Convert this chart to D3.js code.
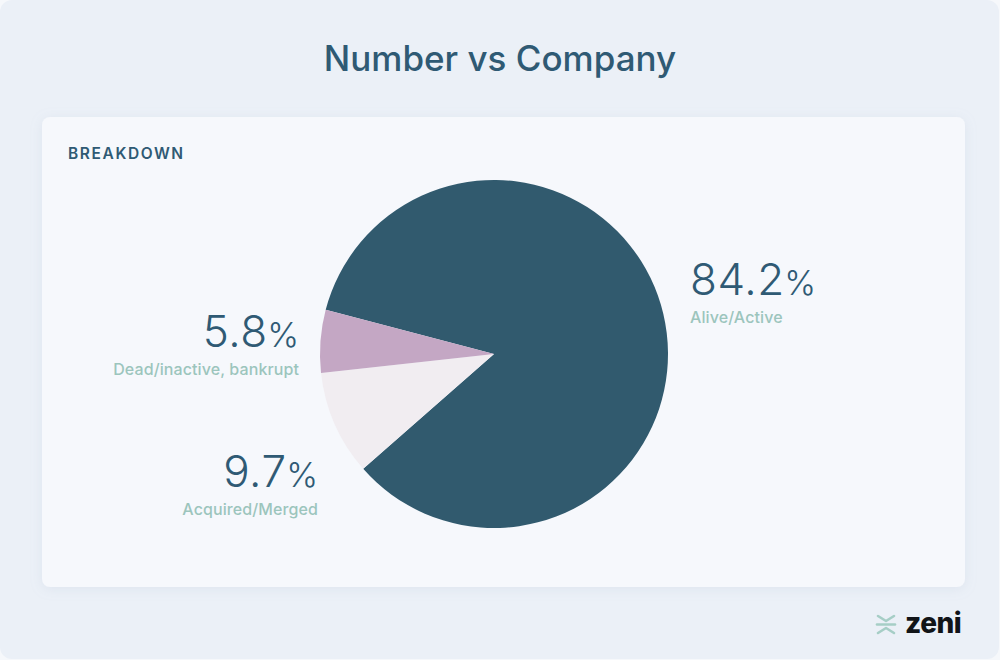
<!DOCTYPE html>
<html>
<head>
<meta charset="utf-8">
<script src="https://cdn.jsdelivr.net/npm/d3@7"></script>
<style>
  html, body { margin: 0; padding: 0; background: #f6f8fb; }
  #chart { width: 1000px; height: 660px; }
</style>
</head>
<body>
<div id="chart"></div>
<script>
// chart values
const categories = ["Alive/Active", "Acquired/Merged", "Dead/inactive, bankrupt"];
const values = [84.2, 9.7, 5.8];
const valueLabels = ["84.2", "9.7", "5.8"];
const sliceColors = ["#315a6e", "#f1edf1", "#c4a7c4"];

document.addEventListener('DOMContentLoaded', function() {

    const width = 1000, height = 660;
    const cx = 494, cy = 354, radius = 174;

    const svg = d3.select("#chart")
        .append("svg")
        .attr("width", width)
        .attr("height", height);

    // soft shadow for the card
    const defs = svg.append("defs");
    const shadow = defs.append("filter")
        .attr("id", "cardShadow")
        .attr("x", "-5%").attr("y", "-5%")
        .attr("width", "110%").attr("height", "115%");
    shadow.append("feDropShadow")
        .attr("dx", 0).attr("dy", 2)
        .attr("stdDeviation", 6)
        .attr("flood-color", "#9fb0c8")
        .attr("flood-opacity", 0.18);

    // page background
    svg.append("rect")
        .attr("x", 0).attr("y", 0)
        .attr("width", width - 1).attr("height", height - 1)
        .attr("rx", 12)
        .attr("fill", "#ebf0f7");

    // title
    svg.append("text")
        .attr("x", 500)
        .attr("y", 71)
        .attr("text-anchor", "middle")
        .attr("font-family", "Inter, 'Noto Sans', sans-serif")
        .attr("font-size", 35)
        .attr("font-weight", 500)
        .attr("fill", "#2f5a74")
        .text("Number vs Company");

    // card
    svg.append("rect")
        .attr("x", 42).attr("y", 117)
        .attr("width", 923).attr("height", 470)
        .attr("rx", 8)
        .attr("fill", "#f6f8fc")
        .attr("filter", "url(#cardShadow)");

    svg.append("text")
        .attr("x", 68)
        .attr("y", 159)
        .attr("font-family", "Inter, 'Noto Sans', sans-serif")
        .attr("font-size", 15.5)
        .attr("font-weight", 600)
        .attr("letter-spacing", 1.6)
        .attr("fill", "#2f5a74")
        .text("BREAKDOWN");

    // pie
    const startAngle = -75.3 * Math.PI / 180;
    const pie = d3.pie()
        .sort(null)
        .value(d => d)
        .startAngle(startAngle)
        .endAngle(startAngle + 2 * Math.PI);

    const arc = d3.arc()
        .innerRadius(0)
        .outerRadius(radius);

    const arcs = pie(values);

    const g = svg.append("g")
        .attr("transform", `translate(${cx},${cy})`);

    g.selectAll("path")
        .data(arcs)
        .enter()
        .append("path")
        .attr("d", arc)
        .attr("fill", (d, i) => sliceColors[i]);

    // label placement, relative to pie centre
    const labelLayout = [
        { dx: 196, dy: -59, anchor: "start" },
        { dx: -176, dy: 133, anchor: "end" },
        { dx: -195, dy: -7, anchor: "end" }
    ];

    const labels = g.selectAll("g.label")
        .data(arcs)
        .enter()
        .append("g")
        .attr("class", "label")
        .attr("transform", (d, i) => `translate(${labelLayout[i].dx},${labelLayout[i].dy})`);

    const num = labels.append("text")
        .attr("text-anchor", (d, i) => labelLayout[i].anchor)
        .attr("font-family", "Inter, 'Noto Sans', sans-serif")
        .attr("font-weight", 300)
        .attr("fill", "#2f5a74");

    num.append("tspan")
        .attr("font-size", 44)
        .attr("letter-spacing", 0.6)
        .text((d, i) => valueLabels[i]);

    num.append("tspan")
        .attr("font-size", 34)
        .attr("dx", -0.6)
        .text("%");

    labels.append("text")
        .attr("y", 28)
        .attr("text-anchor", (d, i) => labelLayout[i].anchor)
        .attr("font-family", "Inter, 'Noto Sans', sans-serif")
        .attr("font-size", 16)
        .attr("font-weight", 500)
        .attr("letter-spacing", 0.1)
        .attr("fill", "#9cc5bd")
        .text((d, i) => categories[i]);

    // zeni logo
    const logo = svg.append("g")
        .attr("transform", "translate(877,614)");
    const iconColor = "#a6cec6";
    logo.append("path")
        .attr("d", "M1,2 L9,7 L17,2")
        .attr("fill", "none")
        .attr("stroke", iconColor)
        .attr("stroke-width", 2.6)
        .attr("stroke-linecap", "round")
        .attr("stroke-linejoin", "round");
    logo.append("path")
        .attr("d", "M0,10.5 L18,10.5")
        .attr("stroke", iconColor)
        .attr("stroke-width", 2.6)
        .attr("stroke-linecap", "round");
    logo.append("path")
        .attr("d", "M1,19 L9,14 L17,19")
        .attr("fill", "none")
        .attr("stroke", iconColor)
        .attr("stroke-width", 2.6)
        .attr("stroke-linecap", "round")
        .attr("stroke-linejoin", "round");

    svg.append("text")
        .attr("x", 905)
        .attr("y", 633)
        .attr("font-family", "Inter, 'Noto Sans', sans-serif")
        .attr("font-size", 28)
        .attr("font-weight", 800)
        .attr("letter-spacing", -0.5)
        .attr("fill", "#111418")
        .text("zeni");
});
</script>
</body>
</html>
